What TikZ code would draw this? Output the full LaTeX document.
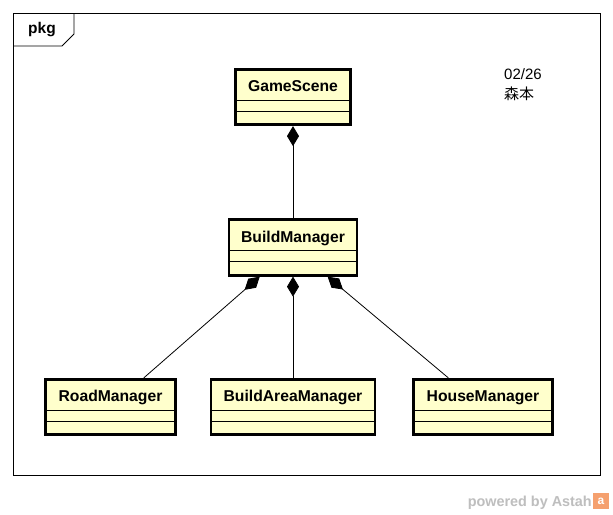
\documentclass[tikz,border=0pt]{standalone}
\usepackage{fontspec}
\setmainfont{Liberation Sans}
\newfontfamily\jpfont{Noto Sans CJK JP}
\usepackage{xcolor}
\usepackage{tikz}
\usetikzlibrary{positioning}
\usetikzlibrary{arrows.meta}

\definecolor{classfill}{RGB}{255,255,204}
\definecolor{astahgray}{RGB}{190,190,190}
\definecolor{astahorange}{RGB}{245,160,110}

\tikzset{
  classbox/.style={draw, line width=2.8pt, fill=classfill, inner xsep=0pt, inner ysep=0pt,
    text height=22.4pt, text depth=33.1pt, font=\fontsize{15.7}{18}\selectfont\bfseries,
    path picture={
      \draw[line width=1pt] ([yshift=-31pt]path picture bounding box.north west) -- ([yshift=-31pt]path picture bounding box.north east);
      \draw[line width=1pt] ([yshift=-42pt]path picture bounding box.north west) -- ([yshift=-42pt]path picture bounding box.north east);
    }},
  compose/.style={line width=0.8pt, -{Diamond[length=20pt,width=12pt]}},
}

\begin{document}
\begin{tikzpicture}[x=1pt,y=-1pt]
    \useasboundingbox (0,0) rectangle (613,514);
    \fill[white] (0,0) rectangle (613,514);

    % package frame
    \draw[line width=0.8pt] (13,13) rectangle (600,475);
    \draw[line width=0.8pt] (13,46) -- (62,46) -- (74,34) -- (74,13);
    \node[font=\fontsize{15.5}{18}\selectfont\bfseries] (pkg) at (42,30) {pkg};

    % classes
    \node[classbox, minimum width=115pt] (game) at (293,97) {GameScene};
    \node[classbox, minimum width=128pt] (build) at (293,247.5) {BuildManager};
    \node[classbox, minimum width=130pt] (road) at (110.5,407) {RoadManager};
    \node[classbox, minimum width=164pt] (area) at (293,407) {BuildAreaManager};
    \node[classbox, minimum width=139pt] (house) at (483,407) {HouseManager};

    % compositions
    \draw[compose] (build) -- (game);
    \draw[compose] (road) -- (build);
    \draw[compose] (area) -- (build);
    \draw[compose] (house) -- (build);

    % note
    \node[anchor=north west, align=left, inner sep=0pt,
          font=\fontsize{15}{20.5}\selectfont] (note) at (504,68) {02/26\\{\jpfont 森本}};

    % watermark
    \node[anchor=base east, inner sep=0pt, text=astahgray,
          font=\fontsize{14.4}{16}\selectfont\bfseries] (powered) at (592,506) {powered by Astah};
    \node[fill=astahorange, minimum size=16pt, inner sep=0pt, text=white,
          font=\fontsize{12}{12}\selectfont\bfseries] (logo) at (601,501) {a};

\end{tikzpicture}
\end{document}
